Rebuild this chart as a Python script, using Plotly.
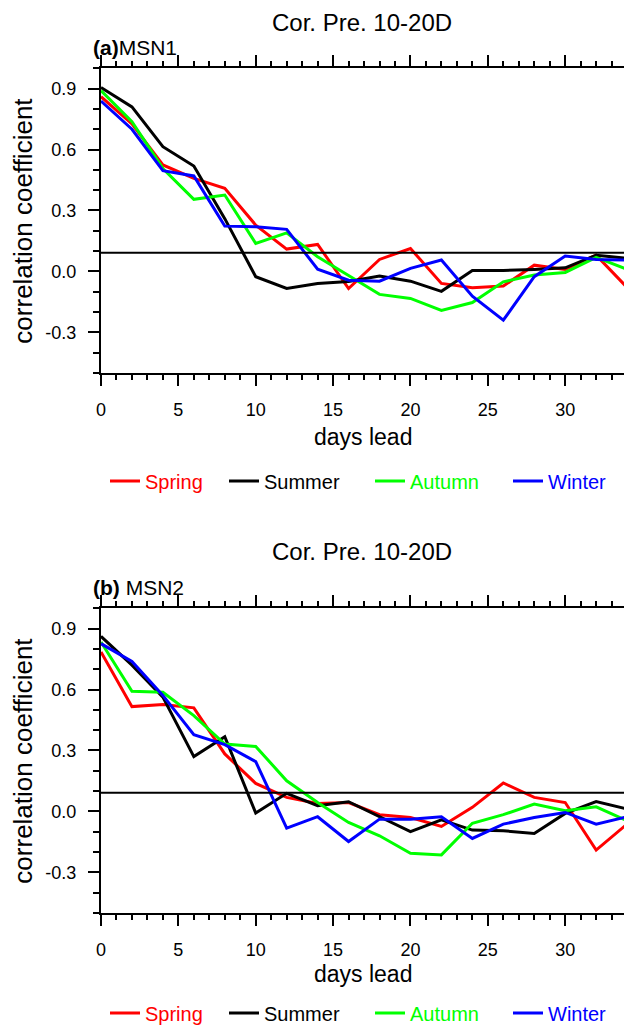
import plotly.graph_objects as go

# ---------------- data ----------------
days = [0, 2, 4, 6, 8, 10, 12, 14, 16, 18, 20, 22, 24, 26, 28, 30, 32, 34]
seasons = ["Spring", "Summer", "Autumn", "Winter"]
season_colors = ["#FF0000", "#000000", "#00FF00", "#0000FF"]

msn1_spring = [0.86, 0.726, 0.524, 0.458, 0.409, 0.228, 0.11, 0.133, -0.084, 0.059, 0.113, -0.059, -0.08, -0.072, 0.031, 0.01, 0.08, -0.079]
msn1_summer = [0.905, 0.81, 0.614, 0.519, 0.26, -0.026, -0.084, -0.059, -0.05, -0.023, -0.048, -0.098, 0.005, 0.005, 0.01, 0.018, 0.08, 0.065]
msn1_autumn = [0.89, 0.737, 0.507, 0.355, 0.376, 0.138, 0.19, 0.072, -0.02, -0.113, -0.133, -0.192, -0.153, -0.051, -0.018, -0.005, 0.069, 0.01]
msn1_winter = [0.839, 0.7, 0.496, 0.47, 0.223, 0.22, 0.207, 0.011, -0.043, -0.048, 0.015, 0.056, -0.122, -0.24, -0.026, 0.076, 0.059, 0.056]

msn2_spring = [0.785, 0.516, 0.526, 0.51, 0.283, 0.138, 0.069, 0.039, 0.044, -0.016, -0.03, -0.074, 0.02, 0.14, 0.069, 0.044, -0.19, -0.062]
msn2_summer = [0.862, 0.72, 0.5625, 0.27, 0.368, -0.008, 0.089, 0.028, 0.048, -0.026, -0.099, -0.041, -0.092, -0.095, -0.109, -0.01, 0.049, 0.012]
msn2_autumn = [0.834, 0.592, 0.587, 0.472, 0.332, 0.32, 0.151, 0.044, -0.054, -0.12, -0.206, -0.214, -0.058, -0.016, 0.036, 0.003, 0.023, -0.046]
msn2_winter = [0.826, 0.738, 0.571, 0.378, 0.329, 0.245, -0.082, -0.026, -0.148, -0.038, -0.038, -0.026, -0.133, -0.0625, -0.03, -0.005, -0.0625, -0.026]

sig_level = 0.092

x_tickvals = [0, 5, 10, 15, 20, 25, 30]
x_ticktext = ["0", "5", "10", "15", "20", "25", "30"]
y_tickvals = [-0.3, 0.0, 0.3, 0.6, 0.9]
y_ticktext = ["-0.3", "0.0", "0.3", "0.6", "0.9"]

panel_titles = ["Cor. Pre. 10-20D", "Cor. Pre. 10-20D"]
panel_labels = ["<b>(a)</b>MSN1", "<b>(b)</b> MSN2"]
x_title = "days lead"
y_title = "correlation coefficient"

# ---------------- layout helpers ----------------
W, H = 624, 1026
FONT = "Liberation Sans, Arial, Helvetica, sans-serif"


def px(x):
    return x / W


def py(y):
    return 1 - y / H


panels = [
    dict(series=[msn1_spring, msn1_summer, msn1_autumn, msn1_winter],
         top=68.3, bottom=373.0, legend="legend",
         title_y=22.7, label_y=47.3, xlab_y=437, legend_y=481),
    dict(series=[msn2_spring, msn2_summer, msn2_autumn, msn2_winter],
         top=608.3, bottom=913.0, legend="legend2",
         title_y=551, label_y=587, xlab_y=974, legend_y=1013),
]

legend_widths = [74, 101, 93, 60]

fig = go.Figure()
annotations = []
shapes = []
layout_axes = {}

for i, p in enumerate(panels):
    xa = "x" if i == 0 else "x2"
    ya = "y" if i == 0 else "y2"
    for s, name, col, lw in zip(p["series"], seasons, season_colors, legend_widths):
        fig.add_trace(go.Scatter(
            x=days, y=s, mode="lines",
            line=dict(color=col, width=3),
            name=f"<span style='color:{col}'>{name}</span>",
            xaxis=xa, yaxis=ya, legend=p["legend"], legendwidth=lw,
            hoverinfo="skip",
        ))
    xkey = "xaxis" if i == 0 else "xaxis2"
    ykey = "yaxis" if i == 0 else "yaxis2"
    layout_axes[xkey] = dict(
        domain=[px(101), 1], range=[0, 33.8], anchor=ya,
        showline=True, linewidth=2, linecolor="black", mirror="ticks",
        ticks="outside", ticklen=11, tickwidth=2, tickcolor="black",
        tickmode="array", tickvals=x_tickvals, ticktext=x_ticktext,
        minor=dict(tickmode="linear", tick0=0, dtick=1, ticks="outside",
                   ticklen=5, tickwidth=1.5, tickcolor="black"),
        tickfont=dict(size=18, color="black", family=FONT),
        showgrid=False, zeroline=False, ticklabelstandoff=8,
    )
    layout_axes[ykey] = dict(
        domain=[py(p["bottom"]), py(p["top"])], range=[-0.5, 1.0], anchor=xa,
        showline=True, linewidth=2, linecolor="black", mirror=False,
        ticks="outside", ticklen=11, tickwidth=2, tickcolor="black",
        tickmode="array", tickvals=y_tickvals, ticktext=y_ticktext,
        minor=dict(tickmode="linear", tick0=0, dtick=0.1, ticks="outside",
                   ticklen=6, tickwidth=1.5, tickcolor="black"),
        tickfont=dict(size=18, color="black", family=FONT),
        showgrid=False, zeroline=False, ticklabelstandoff=8,
    )
    shapes.append(dict(type="line", xref=f"{xa} domain", x0=0, x1=1,
                       yref=ya, y0=sig_level, y1=sig_level,
                       line=dict(color="black", width=2), layer="above"))
    annotations += [
        dict(text=panel_titles[i], x=px(362), y=py(p["title_y"]), xref="paper", yref="paper",
             xanchor="center", yanchor="middle", showarrow=False,
             font=dict(size=24, color="black", family=FONT)),
        dict(text=panel_labels[i], x=px(91), y=py(p["label_y"]), xref="paper", yref="paper",
             xanchor="left", yanchor="middle", showarrow=False,
             font=dict(size=21, color="black", family=FONT)),
        dict(text=x_title, x=px(363), y=py(p["xlab_y"]), xref="paper", yref="paper",
             xanchor="center", yanchor="middle", showarrow=False,
             font=dict(size=23, color="black", family=FONT)),
        dict(text=y_title, x=px(23), y=py((p["top"] + p["bottom"]) / 2), xref="paper", yref="paper",
             xanchor="center", yanchor="middle", showarrow=False, textangle=-90,
             font=dict(size=26, color="black", family=FONT)),
    ]
    layout_axes[p["legend"]] = dict(
        orientation="h", x=px(105), xanchor="left",
        y=py(p["legend_y"]), yanchor="middle",
        font=dict(size=20, family=FONT, color="black"),
        bgcolor="rgba(0,0,0,0)", borderwidth=0, traceorder="normal",
        itemwidth=30, itemclick=False, itemdoubleclick=False,
    )

fig.update_layout(
    width=W, height=H,
    margin=dict(l=0, r=0, t=0, b=0, autoexpand=False),
    paper_bgcolor="white", plot_bgcolor="white",
    font=dict(family=FONT, color="black"),
    showlegend=True,
    annotations=annotations, shapes=shapes,
    **layout_axes,
)

fig.write_html(
    "out.html",
    config={"displayModeBar": False},
    post_script="document.body.style.margin='0px';document.body.style.overflow='hidden';",
)
